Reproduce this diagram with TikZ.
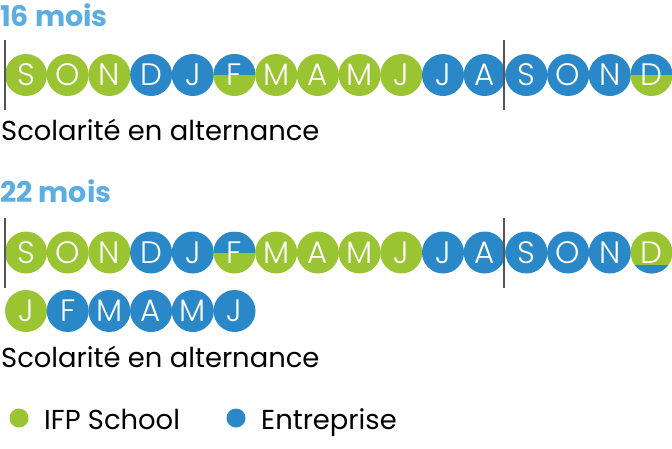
\documentclass[tikz,border=0pt]{standalone}
\usepackage{fontspec}
\setmainfont{Poppins}
\newfontfamily\monthfont{Poppins Light}
\definecolor{grn}{HTML}{9BC432}
\definecolor{blu}{HTML}{2A88C9}
\definecolor{ttl}{HTML}{5BADE2}
\definecolor{sepc}{HTML}{555555}
\begin{document}
\begin{tikzpicture}[x=1pt,y=-1pt,
  month/.style={circle, minimum size=42pt, inner sep=0pt, text=white,
    font=\monthfont\fontsize{31}{31}\selectfont},
  g/.style={month, fill=grn},
  b/.style={month, fill=blu},
  gb/.style={month, fill=grn, path picture={\fill[blu] (path picture bounding box.north west) rectangle (path picture bounding box.east);}},
  dcap/.style={month, fill=grn, path picture={\fill[blu] (path picture bounding box.south west) rectangle ([yshift=9pt]path picture bounding box.south east);}},
  title/.style={anchor=base west, inner sep=0pt, text=ttl, font=\bfseries\fontsize{28.5}{28.5}\selectfont},
  body/.style={anchor=base west, inner sep=0pt, text=black, font=\fontsize{27.4}{27.4}\selectfont},
  sepline/.style={draw=sepc, line width=1.5pt},
  dot/.style={circle, minimum size=19pt, inner sep=0pt}
]
\useasboundingbox (0,0) rectangle (672,448);
% row 1
\node[title] (t1) at (0,26) {16 mois};
\foreach \st/\l [count=\i from 0] in {g/S,g/O,g/N,b/D,b/J,gb/F,g/M,g/A,g/M,g/J,b/J,b/A,b/S,b/O,b/N,gb/D}
  \node[\st] (a\i) at ({26+41.7*\i},75) {\l};
\coordinate (s1t) at (5,40); \coordinate (s1b) at (5,110);
\coordinate (s2t) at (504,40); \coordinate (s2b) at (504,110);
\draw[sepline] (s1t) -- (s1b);
\draw[sepline] (s2t) -- (s2b);
\node[body] (sc1) at (1,140) {Scolarité en alternance};
% row 2
\node[title] (t2) at (0,202) {22 mois};
\foreach \st/\l [count=\i from 0] in {g/S,g/O,g/N,b/D,b/J,gb/F,g/M,g/A,g/M,g/J,b/J,b/A,b/S,b/O,b/N,dcap/D}
  \node[\st] (c\i) at ({26+41.7*\i},252.5) {\l};
\foreach \st/\l [count=\i from 0] in {g/J,b/F,b/M,b/A,b/M,b/J}
  \node[\st] (d\i) at ({26+41.7*\i},311) {\l};
\coordinate (s3t) at (5,218); \coordinate (s3b) at (5,288);
\coordinate (s4t) at (504,218); \coordinate (s4b) at (504,288);
\draw[sepline] (s3t) -- (s3b);
\draw[sepline] (s4t) -- (s4b);
\node[body] (sc2) at (1,367) {Scolarité en alternance};
% legend
\node[dot, fill=grn] (lg) at (19,418) {};
\node[body] (lgt) at (44,429) {IFP School};
\node[dot, fill=blu] (lb) at (236,418) {};
\node[body] (lbt) at (261,429) {Entreprise};
\end{tikzpicture}
\end{document}
